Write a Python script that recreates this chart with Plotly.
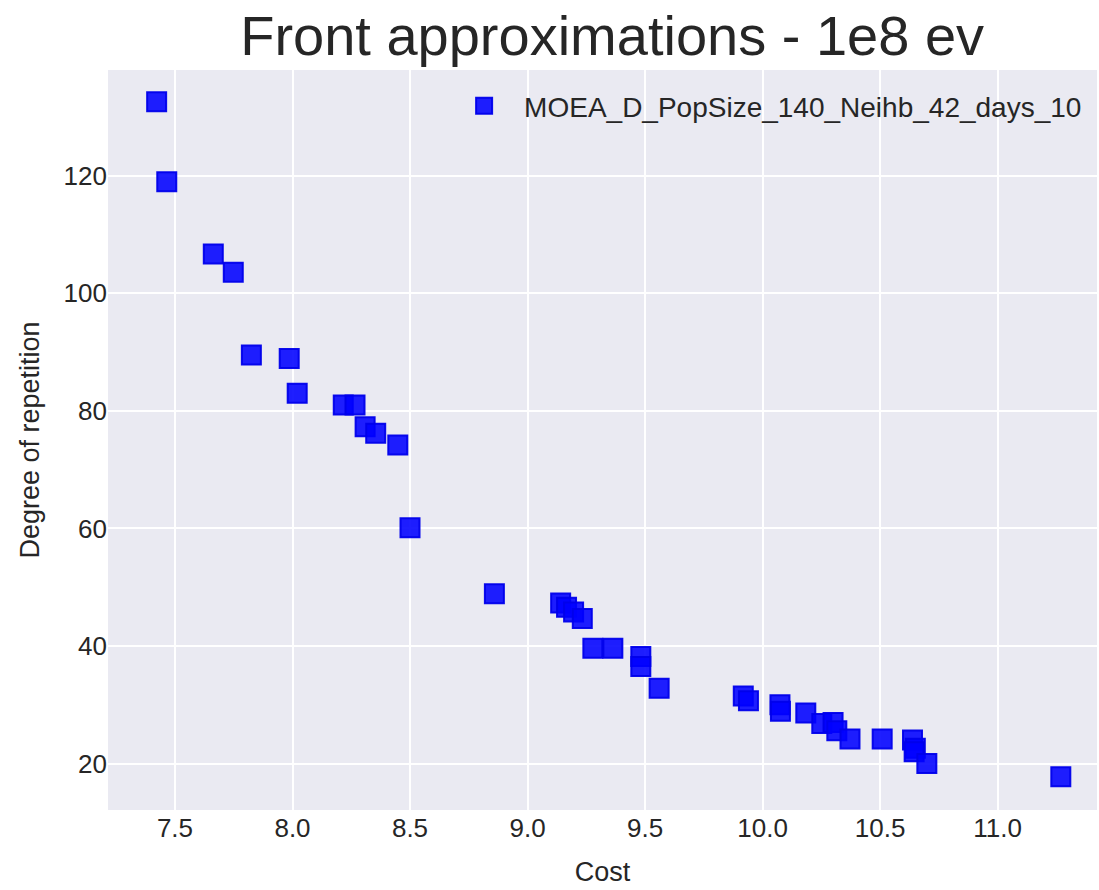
import plotly.graph_objects as go

# Pareto front approximation: cost vs. degree of repetition
cost = [7.422, 7.465, 7.663, 7.748, 7.825, 7.986, 8.020, 8.216, 8.266,
        8.309, 8.354, 8.448, 8.500, 8.859,
        9.141, 9.166, 9.196, 9.233, 9.278, 9.363, 9.482, 9.482, 9.560,
        9.918, 9.940, 10.074, 10.076, 10.184, 10.252, 10.300, 10.316,
        10.372, 10.509, 10.638, 10.650, 10.645, 10.699, 11.269]
repetition = [132.6, 119.0, 106.7, 103.6, 89.5, 88.9, 83.0, 81.0, 81.0,
              77.3, 76.2, 74.2, 60.1, 48.9,
              47.3, 46.6, 45.8, 44.7, 39.6, 39.6, 38.2, 36.5, 32.8,
              31.5, 30.7, 30.0, 28.9, 28.6, 26.8, 27.0, 25.6,
              24.2, 24.2, 24.0, 22.6, 22.0, 20.0, 17.75]
series_name = "MOEA_D_PopSize_140_Neihb_42_days_10"
x_ticks = [7.5, 8.0, 8.5, 9.0, 9.5, 10.0, 10.5, 11.0]
y_ticks = [20, 40, 60, 80, 100, 120]

FONT = "Liberation Sans Narrow, Liberation Sans, Arial, sans-serif"
INK = "#262626"

fig = go.Figure()
fig.add_trace(go.Scatter(
    x=cost, y=repetition, mode="markers", name=series_name,
    marker=dict(symbol="square", size=19, color="rgba(0,0,255,0.88)",
                line=dict(color="rgba(0,0,235,0.95)", width=2)),
))

fig.update_layout(
    width=1099, height=890,
    margin=dict(l=108, r=2, t=70, b=80),
    paper_bgcolor="white", plot_bgcolor="#EAEAF2",
    title=dict(text="Front approximations - 1e8 ev", x=0.557, xanchor="center",
               y=0.96, yanchor="middle",
               font=dict(family=FONT, size=56, color=INK)),
    font=dict(family=FONT, color=INK),
    showlegend=True,
    legend=dict(x=0.99, y=0.985, xanchor="right", yanchor="top",
                bgcolor="rgba(0,0,0,0)", borderwidth=0,
                font=dict(family=FONT, size=28, color=INK),
                itemsizing="trace", itemwidth=70),
    xaxis=dict(range=[7.215, 11.423], tickvals=x_ticks,
               ticktext=[f"{v:.1f}" for v in x_ticks],
               showgrid=True, gridcolor="white", gridwidth=1.8,
               zeroline=False, showline=False, ticks="",
               tickfont=dict(family=FONT, size=26, color=INK),
               title=dict(text="Cost", font=dict(family=FONT, size=27, color=INK),
                          standoff=20)),
    yaxis=dict(range=[12.1, 138.0], tickvals=y_ticks,
               showgrid=True, gridcolor="white", gridwidth=1.8,
               zeroline=False, showline=False, ticks="",
               tickfont=dict(family=FONT, size=26, color=INK),
               title=dict(text="Degree of repetition",
                          font=dict(family=FONT, size=27, color=INK),
                          standoff=16)),
)

fig.write_html("out.html")
